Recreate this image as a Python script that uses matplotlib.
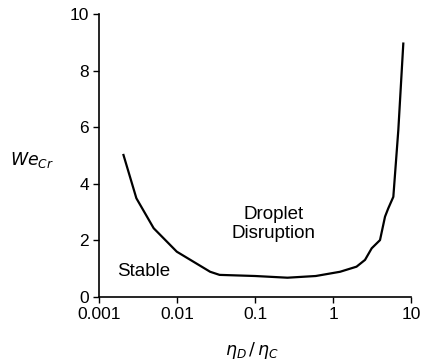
import matplotlib
matplotlib.use("Agg")
import matplotlib.pyplot as plt

plt.rcParams["font.family"] = ["Liberation Sans", "DejaVu Sans"]

# viscosity ratio and critical Weber number
visc_ratio = [0.00205, 0.003, 0.005, 0.0099, 0.0265, 0.035, 0.1, 0.26, 0.6, 1.23,
              2.0, 2.57, 3.13, 4.0, 4.64, 5.1, 5.93, 6.87, 7.96]
we_cr = [5.02, 3.49, 2.43, 1.6, 0.89, 0.78, 0.74, 0.68, 0.74, 0.89,
         1.07, 1.31, 1.72, 2.01, 2.84, 3.13, 3.54, 5.9, 8.96]

x_ticks = [0.001, 0.01, 0.1, 1, 10]
x_tick_labels = ["0.001", "0.01", "0.1", "1", "10"]
y_ticks = [0, 2, 4, 6, 8, 10]

fig = plt.figure(figsize=(4.22, 3.63), dpi=100)
ax = fig.add_axes([0.235, 0.182, 0.739, 0.779])

ax.plot(visc_ratio, we_cr, color="black", lw=1.6)

ax.set_xscale("log")
ax.set_xlim(0.001, 10)
ax.set_ylim(0, 10)
ax.set_xticks(x_ticks)
ax.set_xticklabels(x_tick_labels)
ax.minorticks_off()
ax.set_yticks(y_ticks)

for s in ["top", "right"]:
    ax.spines[s].set_visible(False)
ax.spines["left"].set_linewidth(1.2)
ax.spines["bottom"].set_linewidth(1.2)
ax.tick_params(labelsize=12.5, length=4, width=1)

ax.text(0.0017, 0.9, "Stable", fontsize=13.5, ha="left", va="center")
ax.text(0.17, 2.58, "Droplet\nDisruption", fontsize=13.5, ha="center", va="center",
        linespacing=1.15)

fig.text(0.024, 0.559, r"$We_{Cr}$", fontsize=12.5, ha="left", va="center")
fig.text(0.597, 0.035, r"$\eta_D\,/\,\eta_C$", fontsize=12.5, ha="center", va="center")

fig.savefig("out.png", dpi=100)
